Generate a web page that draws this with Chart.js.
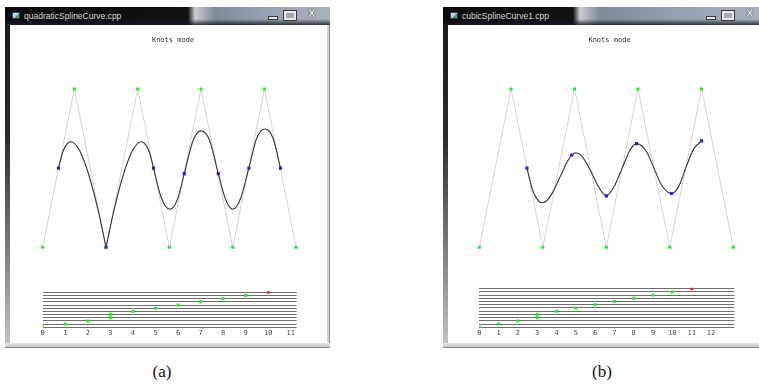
<!DOCTYPE html>
<html><head><meta charset="utf-8">
<script src="https://cdn.jsdelivr.net/npm/chart.js@4.4.0/dist/chart.umd.min.js"></script>
<style>
html,body{margin:0;padding:0;background:#fff;width:759px;height:387px;overflow:hidden;position:relative;font-family:"Liberation Sans",Arial,sans-serif;}
.win{position:absolute;top:7px;width:325px;height:341px;}
.tb{position:absolute;left:0;top:0;right:0;height:18px;line-height:18px;font-size:8.5px;color:#d8d8d8;white-space:nowrap;overflow:hidden;}
.tb .shade{position:absolute;left:0;right:0;bottom:0;height:6px;background:linear-gradient(rgba(20,28,40,0),rgba(20,28,40,0.85));}
.tb .txt{position:absolute;left:19px;top:0;}
.tb .ico{position:absolute;left:7px;top:5px;width:8px;height:7px;background:linear-gradient(135deg,#e8f0f8 0,#9fc2e4 55%,#3f8f4f 56%,#6ab070 100%);border:1px solid #2a3a50;box-sizing:border-box;}
.btnmin{position:absolute;left:263px;top:9px;width:8px;height:2px;background:#e8e8e8;border:1px solid #3a3a3a;}
.btnmax{position:absolute;left:279px;top:4px;width:8px;height:5px;border:2px solid #e8e8e8;outline:1px solid #3a3a3a;}
.btnx{position:absolute;left:303px;top:0;font:bold 11px "Liberation Sans",Arial,sans-serif;color:#eaeaea;text-shadow:0 0 1px #222,0 0 1px #222;}
.fl{position:absolute;left:0;top:18px;width:5px;bottom:0;background:linear-gradient(#1c1c1c,#2c2c2c 35%,#8a8a8a 75%,#c6c6c6);}
.fr{position:absolute;right:0;top:18px;width:3px;bottom:0;background:#d2d2d2;border-right:1px solid #8a8a8a;box-sizing:border-box;}
.fb{position:absolute;left:0;right:0;bottom:0;height:5px;background:linear-gradient(#e4e4e4,#c8c8c8);border-bottom:1px solid #8a8a8a;box-sizing:border-box;}
.client{position:absolute;left:5px;top:18px;right:3px;bottom:5px;background:#fff;}
.cap{position:absolute;top:362px;width:60px;text-align:center;font:17px "Liberation Serif","DejaVu Serif",serif;line-height:20px;color:#111;}
canvas{position:absolute;}
</style></head>
<body>
<div class="win" style="left:5px;">
  <div class="tb" style="background:linear-gradient(to right,#0b0b0b 0,#111 183px,#c9ced4 190px,#aeb6c0 197px,#7f8b99 210px,#94a0ae 255px,#a9b4c1 100%);">
    <div class="shade"></div><div class="ico"></div><div class="txt">quadraticSplineCurve.cpp</div>
    <div class="btnmin"></div><div class="btnmax"></div><div class="btnx">X</div>
  </div>
  <div class="fl"></div><div class="fr"></div><div class="fb"></div><div class="client"></div>
</div>
<div class="win" style="left:443px;">
  <div class="tb" style="background:linear-gradient(to right,#0b0b0b 0,#111 130px,#c9ced4 137px,#aeb6c0 144px,#7f8b99 157px,#94a0ae 230px,#a9b4c1 100%);">
    <div class="shade"></div><div class="ico"></div><div class="txt">cubicSplineCurve1.cpp</div>
    <div class="btnmin"></div><div class="btnmax"></div><div class="btnx">X</div>
  </div>
  <div class="fl"></div><div class="fr"></div><div class="fb"></div><div class="client"></div>
</div>
<div class="cap" style="left:132px;">(a)</div>
<div class="cap" style="left:572px;">(b)</div>

<canvas id="mainA" width="304" height="245" style="left:21px;top:26px;"></canvas>
<canvas id="knotA" width="264" height="54" style="left:38px;top:285px;"></canvas>
<canvas id="mainB" width="299" height="245" style="left:460px;top:26px;"></canvas>
<canvas id="knotB" width="266" height="58" style="left:474px;top:281px;"></canvas>

<script>
// ---------------- data ----------------
// control polygon (same shape in both windows): x = control point index, y = 0 bottom / 1 top
const ctrlX = [0, 1, 2, 3, 4, 5, 6, 7, 8];
const ctrlY = [0, 1, 0, 1, 0, 1, 0, 1, 0];

// (a) quadratic spline curve (split at the cusp on control point 2)
const quadCurve1X = [0.5, 0.633, 0.781, 0.889, 1.125, 1.320, 1.531, 1.758, 2.0];
const quadCurve1Y = [0.5, 0.602, 0.656, 0.667, 0.625, 0.539, 0.406, 0.227, 0.0];
const quadCurve2X = [2.0, 2.242, 2.469, 2.680, 2.875, 3.111, 3.219, 3.367, 3.5, 3.75, 4.02, 4.25, 4.47, 4.75, 5.0, 5.27, 5.545, 5.78, 6.0, 6.25, 6.51, 6.76, 7.02, 7.27, 7.51];
const quadCurve2Y = [0.0, 0.227, 0.406, 0.539, 0.625, 0.667, 0.656, 0.602, 0.5, 0.31, 0.24, 0.30, 0.465, 0.675, 0.735, 0.675, 0.465, 0.30, 0.24, 0.31, 0.50, 0.69, 0.747, 0.69, 0.50];
// (a) curve points at the knot values (blue)
const quadKnotPtX = [0.5, 2.0, 3.5, 4.47, 5.545, 6.51, 7.51];
const quadKnotPtY = [0.5, 0.0, 0.5, 0.465, 0.465, 0.50, 0.50];
// (a) knot vector and knot-line tick labels
const quadKnots = [0, 1, 2, 3, 3, 4, 5, 6, 7, 8, 9, 10];
const quadTicks = [0, 1, 2, 3, 4, 5, 6, 7, 8, 9, 10, 11];

// (b) cubic spline curve
const cubCurveX = [1.5, 1.687, 1.874, 2.0, 2.24, 2.59, 2.757, 2.917, 3.04, 3.215, 3.49, 3.749, 4.0, 4.25, 4.5, 4.75, 4.95, 5.25, 5.5, 5.75, 6.05, 6.27, 6.5, 6.75, 7.0];
const cubCurveY = [0.5, 0.357, 0.29, 0.281, 0.323, 0.465, 0.535, 0.583, 0.597, 0.579, 0.49, 0.384, 0.325, 0.385, 0.5, 0.615, 0.655, 0.61, 0.5, 0.39, 0.34, 0.38, 0.5, 0.62, 0.672];
const cubKnotPtX = [1.5, 2.917, 4.0, 4.95, 6.05, 7.0];
const cubKnotPtY = [0.5, 0.583, 0.325, 0.655, 0.34, 0.672];
const cubKnots = [0, 1, 2, 3, 3, 4, 5, 6, 7, 8, 9, 10, 11];
const cubTicks = [0, 1, 2, 3, 4, 5, 6, 7, 8, 9, 10, 11, 12];

const TITLE = 'Knots mode';

// ---------------- helpers ----------------
const pts = (xs, ys) => xs.map((x, i) => ({x: x, y: ys[i]}));
const GREEN = '#22ee22', BLUE = '#2020e0', RED = '#ee2222';
const MONO = "'DejaVu Sans Mono', monospace";

function mainChart(id, curves, kx, ky, xmin, xmax) {
  const ds = [];
  ds.push({data: pts(ctrlX, ctrlY), showLine: true, borderColor: '#d4d4d4', borderWidth: 1, pointRadius: 0, order: 3});
  curves.forEach(c => ds.push({data: pts(c[0], c[1]), showLine: true, borderColor: '#333', borderWidth: 1.1,
    pointRadius: 0, cubicInterpolationMode: 'monotone', order: 2}));
  ds.push({data: pts(ctrlX, ctrlY), showLine: false, pointStyle: 'rect', pointRadius: 2.2, borderWidth: 0,
    pointBackgroundColor: GREEN, pointBorderWidth: 0, order: 1});
  ds.push({data: pts(kx, ky), showLine: false, pointStyle: 'rect', pointRadius: 2.2, borderWidth: 0,
    pointBackgroundColor: BLUE, pointBorderWidth: 0, order: 0});
  return new Chart(document.getElementById(id), {
    type: 'scatter',
    data: {datasets: ds},
    options: {
      responsive: false, animation: false, devicePixelRatio: 1,
      layout: {padding: 0, autoPadding: false},
      plugins: {
        legend: {display: false}, tooltip: {enabled: false},
        title: {display: true, text: TITLE, color: '#333', font: {family: MONO, size: 7, weight: 'normal'},
          padding: {top: 10.1, bottom: 12.8}}
      },
      scales: {
        x: {type: 'linear', display: false, min: xmin, max: xmax},
        y: {type: 'linear', display: false, min: -0.1497, max: 1.2}
      }
    }
  });
}

function knotChart(id, knots, ticks, xmax, pad) {
  const colors = knots.map((_, i) => i === knots.length - 1 ? RED : GREEN);
  return new Chart(document.getElementById(id), {
    type: 'scatter',
    data: {datasets: [{data: knots.map((k, i) => ({x: k, y: i})), pointStyle: 'rect', pointRadius: 2.1,
      pointBackgroundColor: colors, pointBorderWidth: 0, borderWidth: 0}]},
    options: {
      responsive: false, animation: false, devicePixelRatio: 1,
      layout: {padding: pad, autoPadding: false},
      plugins: {legend: {display: false}, tooltip: {enabled: false}},
      scales: {
        x: {type: 'linear', min: 0, max: xmax,
          grid: {display: false, drawTicks: false}, border: {display: false},
          ticks: {font: {family: MONO, size: 7}, color: '#444', padding: 1, maxRotation: 0, autoSkip: false},
          afterBuildTicks: s => { s.ticks = ticks.map(v => ({value: v})); }},
        y: {type: 'linear', min: -0.3, max: knots.length - 1 + 0.3,
          grid: {color: '#6e6e6e', lineWidth: 1, drawTicks: false}, border: {display: false},
          ticks: {display: false},
          afterBuildTicks: s => { s.ticks = knots.map((_, i) => ({value: i})); }}
      }
    }
  });
}

mainChart('mainA', [[quadCurve1X, quadCurve1Y], [quadCurve2X, quadCurve2Y]], quadKnotPtX, quadKnotPtY, -0.6852, 8.9138);
mainChart('mainB', [[cubCurveX, cubCurveY]], cubKnotPtX, cubKnotPtY, -0.6079, 8.8094);
knotChart('knotA', quadKnots, quadTicks, 11.26, {left: 4.7, right: 5.3, top: 6.35, bottom: 0.35});
knotChart('knotB', cubKnots, cubTicks, 13.21, {left: 5.3, right: 5.7, top: 6.73, bottom: 0.33});
</script>
</body></html>
